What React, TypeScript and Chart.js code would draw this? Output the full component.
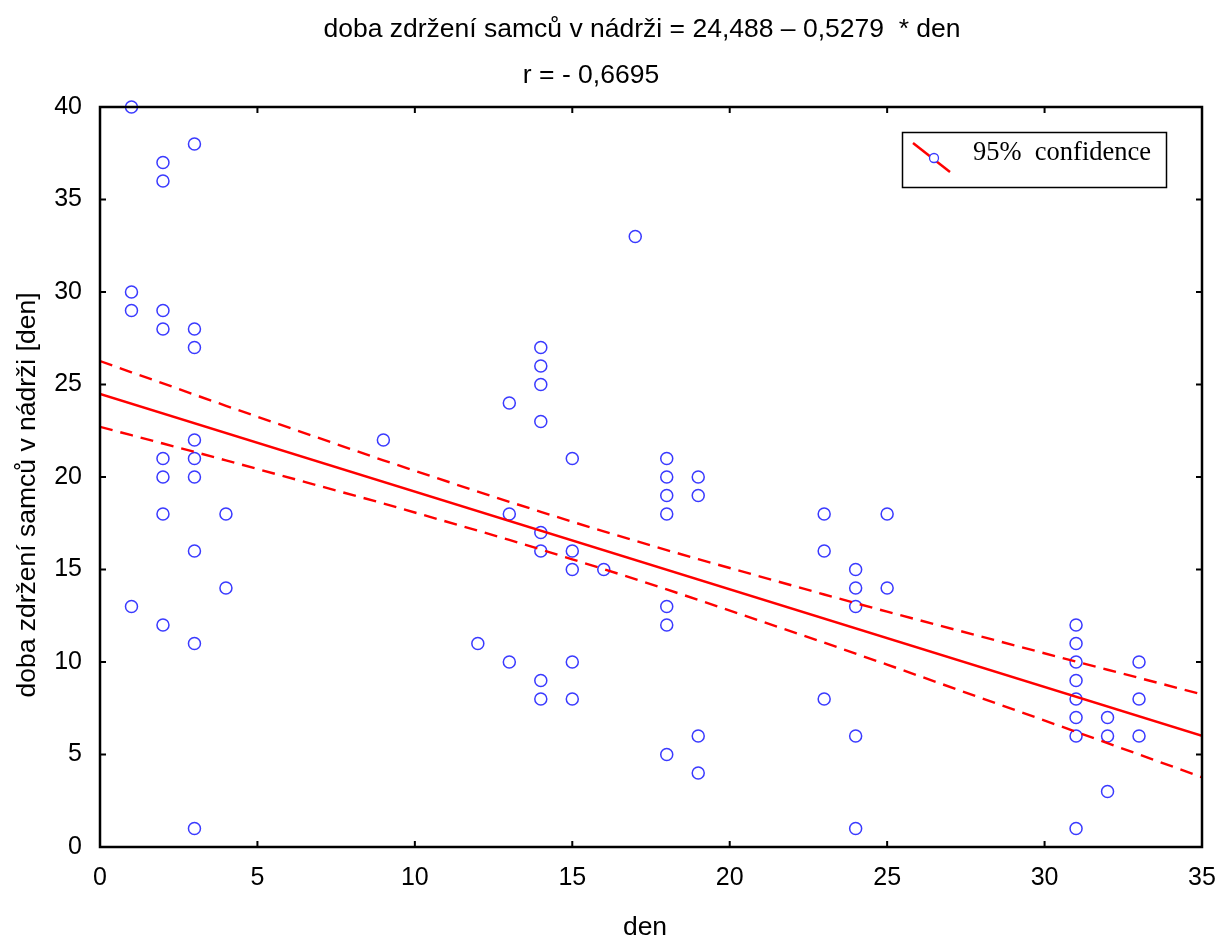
import React, { useEffect, useRef } from "react";
import { Chart, registerables } from "chart.js";

Chart.register(...registerables);

const titleLine1 = "doba zdržení samců v nádrži = 24,488 – 0,5279  * den";
const titleLine2 = "r = - 0,6695";
const xAxisTitle = "den";
const yAxisTitle = "doba zdržení samců v nádrži [den]";
const legendLabel = "95%  confidence";

const xTicks = [0, 5, 10, 15, 20, 25, 30, 35];
const yTicks = [0, 5, 10, 15, 20, 25, 30, 35, 40];

const pointX = [
  1, 1, 1, 1,
  2, 2, 2, 2, 2, 2, 2, 2,
  3, 3, 3, 3, 3, 3, 3, 3, 3,
  4, 4,
  9,
  12,
  13, 13, 13,
  14, 14, 14, 14, 14, 14, 14, 14,
  15, 15, 15, 15, 15,
  16,
  17,
  18, 18, 18, 18, 18, 18, 18,
  19, 19, 19, 19,
  23, 23, 23,
  24, 24, 24, 24, 24,
  25, 25,
  31, 31, 31, 31, 31, 31, 31, 31,
  32, 32, 32,
  33, 33, 33,
];
const pointY = [
  40, 30, 29, 13,
  37, 36, 29, 28, 21, 20, 18, 12,
  38, 28, 27, 22, 21, 20, 16, 11, 1,
  18, 14,
  22,
  11,
  24, 18, 10,
  27, 26, 25, 23, 17, 16, 9, 8,
  21, 16, 15, 10, 8,
  15,
  33,
  21, 20, 19, 18, 13, 12, 5,
  20, 19, 6, 4,
  18, 16, 8,
  15, 14, 13, 6, 1,
  18, 14,
  12, 11, 10, 9, 8, 7, 6, 1,
  7, 6, 3,
  10, 8, 6,
];

const regX = [0, 35];
const regY = [24.488, 6.011];

const bandX = [0, 1, 2, 3, 4, 9, 12, 13, 14, 15, 16, 17, 18, 19, 23, 24, 25, 31, 32, 33, 35];
const bandUpper = [26.27, 25.66, 25.06, 24.45, 23.85, 20.9, 19.21, 18.66, 18.12, 17.58, 17.06, 16.55, 16.05, 15.56, 13.65, 13.18, 12.72, 10.02, 9.58, 9.14, 8.25];
const bandLower = [22.71, 22.26, 21.81, 21.36, 20.9, 18.57, 17.1, 16.6, 16.08, 15.55, 15.02, 14.48, 13.92, 13.36, 11.05, 10.45, 9.86, 6.23, 5.61, 5.0, 3.77];

const SANS = '"Liberation Sans", Arial, sans-serif';
const SERIF = '"Liberation Serif", "Times New Roman", serif';
const BLUE = "#3a3aff";
const RED = "#ff0000";

const decorPlugin = {
  id: "decor",
  afterDatasetsDraw(chart: any) {
    const { ctx, chartArea } = chart;
    const { left, right, top, bottom } = chartArea;
    const xs = chart.scales.x;
    const ys = chart.scales.y;
    ctx.save();
    ctx.strokeStyle = "#000";
    ctx.lineWidth = 2.5;
    ctx.strokeRect(left, top, right - left, bottom - top);
    ctx.lineWidth = 2;
    const tl = 6;
    ctx.beginPath();
    xTicks.forEach((v) => {
      const px = xs.getPixelForValue(v);
      ctx.moveTo(px, bottom);
      ctx.lineTo(px, bottom - tl);
      ctx.moveTo(px, top);
      ctx.lineTo(px, top + tl);
    });
    yTicks.forEach((v) => {
      const py = ys.getPixelForValue(v);
      ctx.moveTo(left, py);
      ctx.lineTo(left + tl, py);
      ctx.moveTo(right, py);
      ctx.lineTo(right - tl, py);
    });
    ctx.stroke();
    ctx.restore();
  },
  afterDraw(chart: any) {
    const { ctx } = chart;
    ctx.save();
    ctx.fillStyle = "#000";
    ctx.font = `26.5px ${SANS}`;
    ctx.textAlign = "center";
    ctx.textBaseline = "middle";
    ctx.fillText(titleLine1, 642, 30);
    ctx.fillText(titleLine2, 591, 76);
    ctx.fillText(xAxisTitle, 645, 928);
    ctx.save();
    ctx.translate(28, 495);
    ctx.rotate(-Math.PI / 2);
    ctx.fillText(yAxisTitle, 0, 0);
    ctx.restore();

    // legend
    ctx.strokeStyle = "#000";
    ctx.lineWidth = 1.5;
    ctx.strokeRect(902.5, 132.5, 264, 55);
    ctx.strokeStyle = RED;
    ctx.lineWidth = 2.5;
    ctx.beginPath();
    ctx.moveTo(913, 143);
    ctx.lineTo(950, 172);
    ctx.stroke();
    ctx.fillStyle = "#fff";
    ctx.strokeStyle = BLUE;
    ctx.lineWidth = 1.3;
    ctx.beginPath();
    ctx.arc(934, 158, 4.5, 0, Math.PI * 2);
    ctx.fill();
    ctx.stroke();
    ctx.fillStyle = "#000";
    ctx.font = `26.5px ${SERIF}`;
    ctx.textAlign = "left";
    ctx.textBaseline = "alphabetic";
    ctx.fillText(legendLabel, 973, 160);
    ctx.restore();
  },
};

export default function App() {
  const ref = useRef<HTMLCanvasElement | null>(null);
  useEffect(() => {
    if (!ref.current) return;
    const chart = new Chart(ref.current, {
      type: "scatter",
      data: {
        datasets: [
          {
            type: "line",
            data: regX.map((x, i) => ({ x, y: regY[i] })),
            borderColor: RED,
            borderWidth: 2.4,
            pointRadius: 0,
            fill: false,
            tension: 0,
          } as any,
          {
            type: "line",
            data: bandX.map((x, i) => ({ x, y: bandUpper[i] })),
            borderColor: RED,
            borderWidth: 2.4,
            borderDash: [13, 8],
            pointRadius: 0,
            fill: false,
            tension: 0,
          } as any,
          {
            type: "line",
            data: bandX.map((x, i) => ({ x, y: bandLower[i] })),
            borderColor: RED,
            borderWidth: 2.4,
            borderDash: [13, 8],
            pointRadius: 0,
            fill: false,
            tension: 0,
          } as any,
          {
            type: "scatter",
            data: pointX.map((x, i) => ({ x, y: pointY[i] })),
            pointStyle: "circle",
            pointRadius: 6,
            pointBorderWidth: 1.5,
            pointBorderColor: BLUE,
            pointBackgroundColor: "rgba(0,0,0,0)",
            borderColor: BLUE,
            backgroundColor: "rgba(0,0,0,0)",
            clip: false,
          } as any,
        ],
      },
      options: {
        responsive: false,
        animation: false,
        layout: { padding: { top: 107, right: 17, left: 0, bottom: 0 } },
        plugins: {
          legend: { display: false },
          title: { display: false },
          tooltip: { enabled: false },
        },
        scales: {
          x: {
            type: "linear",
            min: 0,
            max: 35,
            afterBuildTicks: (s: any) => {
              s.ticks = xTicks.map((v) => ({ value: v }));
            },
            afterFit: (s: any) => {
              s.height = 93;
              s.paddingLeft = 0;
              s.paddingRight = 0;
            },
            ticks: {
              font: { family: SANS, size: 25 },
              color: "#000",
              padding: 16,
              maxRotation: 0,
              autoSkip: false,
            },
            grid: { display: false, drawTicks: false },
            border: { display: false },
          },
          y: {
            type: "linear",
            min: 0,
            max: 40,
            afterBuildTicks: (s: any) => {
              s.ticks = yTicks.map((v) => ({ value: v }));
            },
            afterFit: (s: any) => {
              s.width = 100;
              s.paddingTop = 0;
              s.paddingBottom = 0;
            },
            ticks: {
              font: { family: SANS, size: 25 },
              color: "#000",
              padding: 18,
              autoSkip: false,
            },
            grid: { display: false, drawTicks: false },
            border: { display: false },
          },
        },
      } as any,
      plugins: [decorPlugin],
    });
    return () => chart.destroy();
  }, []);
  return (
    <div style={{ position: "fixed", left: 0, top: 0, width: 1219, height: 940, background: "#fff" }}>
      <canvas ref={ref} width={1219} height={940} style={{ display: "block" }} />
    </div>
  );
}
